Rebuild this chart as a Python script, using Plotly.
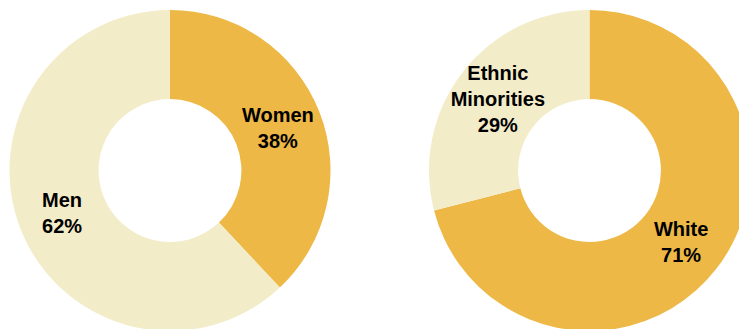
import plotly.graph_objects as go

# Workforce composition, two donuts
gender_labels = ["Women", "Men"]
gender_values = [38, 62]

ethnicity_labels = ["White", "Ethnic<br>Minorities"]
ethnicity_values = [71, 29]

DARK = "#EDB845"
LIGHT = "#F3ECC9"

# Canvas is slightly larger than the viewport so the rings can run off the edges
W, H = 760, 340


def dom(cx, cy, r):
    """Domain (paper coords) for a pie centred at pixel (cx, cy) with radius r."""
    return dict(
        x=[(cx - r) / W, (cx + r) / W],
        y=[1 - (cy + r) / H, 1 - (cy - r) / H],
    )


common = dict(
    hole=0.445,
    sort=False,
    direction="clockwise",
    rotation=0,
    textposition="inside",
    insidetextorientation="horizontal",
    texttemplate="%{label}<br>%{value}%",
    textfont=dict(family="Liberation Sans, Arial, sans-serif", size=20,
                  color="black", weight="bold"),
    marker=dict(colors=[DARK, LIGHT], line=dict(width=0)),
    hoverinfo="label+value",
)

fig = go.Figure()
fig.add_trace(go.Pie(labels=gender_labels, values=gender_values,
                     domain=dom(170, 170.5, 160.5), **common))
fig.add_trace(go.Pie(labels=ethnicity_labels, values=ethnicity_values,
                     domain=dom(589.5, 170.5, 160.5), **common))

fig.update_layout(
    width=W, height=H,
    margin=dict(l=0, r=0, t=0, b=0),
    paper_bgcolor="white",
    plot_bgcolor="white",
    showlegend=False,
    uniformtext=dict(minsize=20, mode="show"),
)

fig.write_html("out.html", config={"displayModeBar": False},
               post_script="document.body.style.margin='0';document.body.style.overflow='hidden';")
